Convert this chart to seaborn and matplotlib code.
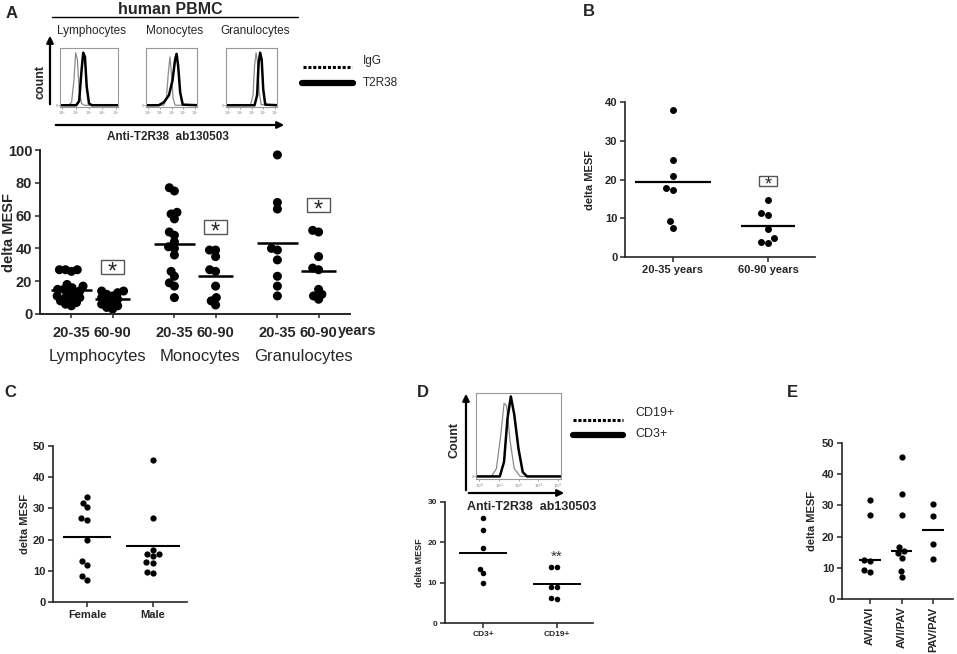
import numpy as np
import pandas as pd
import matplotlib
matplotlib.use('Agg')
import matplotlib.pyplot as plt
import seaborn as sns
from matplotlib.collections import PathCollection

# ---- data ----
# A: delta MESF per cell type and age group
cell_types = ["Lymphocytes", "Monocytes", "Granulocytes"]
age_groups = ["20-35", "60-90"]
lym_young = [27, 27, 27, 26, 18, 17, 16, 15, 15, 14, 13, 12, 11, 10, 10, 9, 8, 7, 6, 5]
lym_old = [14, 14, 13, 12, 11, 10, 9, 8, 7, 6, 5, 4, 3]
mono_young = [77, 75, 62, 61, 58, 50, 48, 44, 41, 40, 36, 26, 23, 19, 17, 10]
mono_old = [39, 39, 35, 27, 26, 17, 10, 8, 5.5]
gran_young = [97, 68, 64, 40, 39, 33, 23, 17, 11]
gran_old = [51, 50, 35, 28, 27, 15, 12, 11, 9]
a_star_y = [28.7, 53, 66.5]

# A histograms (x as fraction of the log axis, y as fraction of box height)
lym_igg_x = [0, 0.15, 0.20, 0.24, 0.27, 0.30, 0.33, 0.37, 0.42, 1]
lym_igg_y = [0.03, 0.03, 0.08, 0.45, 0.92, 0.8, 0.3, 0.06, 0.03, 0.03]
lym_t2r_x = [0, 0.28, 0.33, 0.37, 0.40, 0.43, 0.46, 0.50, 0.55, 1]
lym_t2r_y = [0.03, 0.03, 0.1, 0.6, 0.92, 0.85, 0.35, 0.06, 0.03, 0.03]
mono_igg_x = [0, 0.35, 0.40, 0.44, 0.47, 0.50, 0.53, 0.57, 1]
mono_igg_y = [0.03, 0.03, 0.15, 0.6, 0.85, 0.55, 0.15, 0.03, 0.03]
mono_t2r_x = [0, 0.25, 0.35, 0.45, 0.52, 0.57, 0.60, 0.63, 0.67, 0.72, 1]
mono_t2r_y = [0.03, 0.03, 0.08, 0.2, 0.45, 0.8, 0.9, 0.7, 0.25, 0.04, 0.03]
gran_igg_x = [0, 0.48, 0.53, 0.56, 0.59, 0.62, 0.65, 0.69, 1]
gran_igg_y = [0.03, 0.03, 0.2, 0.7, 0.92, 0.75, 0.25, 0.04, 0.03]
gran_t2r_x = [0, 0.56, 0.61, 0.64, 0.67, 0.70, 0.73, 0.77, 1]
gran_t2r_y = [0.03, 0.03, 0.2, 0.75, 0.92, 0.8, 0.3, 0.04, 0.03]
hist_ticklabels = ["$10^0$", "$10^1$", "$10^2$", "$10^3$", "$10^4$"]

# B: age groups
b_groups = ["20-35 years", "60-90 years"]
b_young = [38, 25, 21, 17.8, 17.4, 9.2, 7.6]
b_old = [14.8, 11.3, 10.9, 7.3, 4.8, 3.9, 3.7]
b_star_y = 19.6

# C: sex
c_groups = ["Female", "Male"]
c_female = [33.8, 31.8, 30.3, 27, 26.3, 19.8, 13.2, 12, 8.4, 7]
c_male = [45.5, 27, 16.7, 15.5, 15.5, 14.7, 12.7, 12.5, 9.5, 9.2]

# D: T vs B cells
d_groups = ["CD3+", "CD19+"]
d_cd3 = [26, 23, 18.6, 13.5, 12.4, 10]
d_cd19 = [14, 13.8, 9, 8.9, 6.2, 6]
d_star_y = 16.4
d_igg_x = [0, 0.18, 0.24, 0.29, 0.33, 0.36, 0.40, 0.45, 0.52, 1]
d_igg_y = [0.03, 0.03, 0.12, 0.5, 0.88, 0.85, 0.45, 0.12, 0.03, 0.03]
d_cd3_x = [0, 0.28, 0.33, 0.37, 0.41, 0.45, 0.50, 0.55, 0.60, 1]
d_cd3_y = [0.03, 0.03, 0.2, 0.7, 0.96, 0.75, 0.35, 0.08, 0.03, 0.03]

# E: genotypes
e_groups = ["AVI/AVI", "AVI/PAV", "PAV/PAV"]
e_avi_avi = [31.8, 27, 12.5, 12.2, 9.3, 8.5]
e_avi_pav = [45.5, 33.8, 27, 16.8, 15.5, 14.8, 13.2, 9, 7]
e_pav_pav = [30.3, 26.7, 17.5, 12.8]

sns.set_style("ticks")
plt.rcParams['font.family'] = ['Liberation Sans', 'DejaVu Sans']
plt.rcParams['axes.linewidth'] = 1.2

W, H = 957, 654
fig = plt.figure(figsize=(W / 100, H / 100), dpi=100)


def px_axes(l, t, r, b):
    return fig.add_axes([l / W, 1 - b / H, (r - l) / W, (b - t) / H])


def fx(x):
    return x / W


def fy(y):
    return 1 - y / H


def long_df(groups, values):
    rows = []
    for g, vals in zip(groups, values):
        for v in vals:
            rows.append({"group": g, "val": v})
    return pd.DataFrame(rows)


def style_dotplot(ax, fs, ylabel, ylab_fs, ylab_x):
    sns.despine(ax=ax)
    ax.set_xlabel("")
    ax.set_ylabel(ylabel, fontsize=ylab_fs, fontweight='bold')
    ax.yaxis.set_label_coords(ylab_x, 0.5)
    ax.tick_params(axis='both', labelsize=fs, length=3.5, width=1.1, pad=2)
    for lab in ax.get_xticklabels() + ax.get_yticklabels():
        lab.set_fontweight('bold')


def freeze_and_enlarge(ax, size):
    # let seaborn place the swarm with the small marker, then keep those
    # positions and draw bigger dots so they overlap like the reference
    fig.canvas.draw()
    for coll in ax.collections:
        if not isinstance(coll, PathCollection):
            continue
        if 'draw' in coll.__dict__:
            del coll.__dict__['draw']
        coll.set_sizes([size ** 2])


def mean_lines(ax, values, half, stat=np.mean, lw=1.6):
    for i, vals in enumerate(values):
        h = half[i] if isinstance(half, (list, tuple)) else half
        ax.hlines(stat(vals), i - h, i + h, color='black', lw=lw, zorder=1)


def star_in_box(ax, x, y, box_fs, star_fs, drop):
    ax.text(x, y, " " * 7, fontsize=box_fs, ha='center', va='center',
            bbox=dict(boxstyle='square,pad=0.2', facecolor='white', edgecolor='#555555', lw=1.0))
    ax.annotate("*", (x, y), xytext=(0, -drop), textcoords='offset points',
                fontsize=star_fs, ha='center', va='center')


def draw_hist(ax, curves, ticklabel_fs):
    for xs, ys, col, lw in curves:
        ax.plot(xs, ys, color=col, lw=lw)
    ax.set_xlim(0, 1)
    ax.set_ylim(0, 1)
    ax.set_xticks([0.04, 0.27, 0.5, 0.73, 0.96])
    ax.set_xticklabels(hist_ticklabels, fontsize=ticklabel_fs, color='#555555')
    ax.set_yticks([0.03])
    ax.set_yticklabels(["0"], fontsize=ticklabel_fs, color='#555555')
    ax.tick_params(length=1.2, width=0.5, pad=0.5, colors='#777777')
    for s in ax.spines.values():
        s.set_color('#999999')
        s.set_linewidth(0.8)


def arrow(x0, y0, x1, y1, lw=1.6):
    fig.add_artist(matplotlib.patches.FancyArrowPatch(
        (fx(x0), fy(y0)), (fx(x1), fy(y1)), transform=fig.transFigure,
        arrowstyle='-|>', mutation_scale=10, lw=lw, color='black'))


# ---------------- Panel A ----------------
fig.text(fx(12), fy(13), "A", fontsize=12, fontweight='bold', ha='center', va='center')
fig.text(fx(170), fy(9), "human PBMC", fontsize=11.5, fontweight='bold', ha='center', va='center')
fig.add_artist(matplotlib.lines.Line2D([fx(52), fx(298)], [fy(17), fy(17)], color='black', lw=1.0))

hist_boxes = [(60, 118), (146, 197), (226, 277)]
hist_curves = [
    [(lym_igg_x, lym_igg_y, '#8a8a8a', 0.9), (lym_t2r_x, lym_t2r_y, 'black', 1.8)],
    [(mono_igg_x, mono_igg_y, '#8a8a8a', 0.9), (mono_t2r_x, mono_t2r_y, 'black', 1.8)],
    [(gran_igg_x, gran_igg_y, '#8a8a8a', 0.9), (gran_t2r_x, gran_t2r_y, 'black', 1.8)],
]
label_centers = [91, 175, 255]
for (l, r), curves, name, cx in zip(hist_boxes, hist_curves, cell_types, label_centers):
    hax = px_axes(l, 48, r, 107)
    draw_hist(hax, curves, 2.5)
    fig.text(fx(cx), fy(31), name, fontsize=8.5, ha='center', va='center')

arrow(50, 107, 50, 33)
arrow(53, 125, 287, 125)
fig.text(fx(40), fy(82), "count", fontsize=9, fontweight='bold', rotation=90, ha='center', va='center')
fig.text(fx(168), fy(137), "Anti-T2R38  ab130503", fontsize=8.5, fontweight='bold', ha='center', va='center')

fig.add_artist(matplotlib.lines.Line2D([fx(303), fx(352)], [fy(67), fy(67)], color='black', lw=2.2, ls=(0, (1, 0.6))))
fig.add_artist(matplotlib.lines.Line2D([fx(302), fx(353)], [fy(83), fy(83)], color='black', lw=4.5))
fig.text(fx(363), fy(61), "IgG", fontsize=8.5, ha='left', va='center')
fig.text(fx(363), fy(83), "T2R38", fontsize=8.5, ha='left', va='center')

axA = px_axes(40, 150, 350, 314)
a_rows = []
for ct, young, old in zip(cell_types, [lym_young, mono_young, gran_young], [lym_old, mono_old, gran_old]):
    for v in young:
        a_rows.append({"cell": ct, "age": age_groups[0], "val": v})
    for v in old:
        a_rows.append({"cell": ct, "age": age_groups[1], "val": v})
dfA = pd.DataFrame(a_rows)
sns.swarmplot(data=dfA, x="cell", y="val", hue="age", order=cell_types, hue_order=age_groups,
              dodge=True, palette=['black', 'black'], size=4.2, legend=False, ax=axA, zorder=2)
for i, (young, old) in enumerate(zip([lym_young, mono_young, gran_young], [lym_old, mono_old, gran_old])):
    axA.hlines(np.mean(young), i - 0.2 - 0.2, i - 0.2 + 0.2, color='black', lw=1.8, zorder=1)
    axA.hlines(np.mean(old), i + 0.2 - 0.17, i + 0.2 + 0.17, color='black', lw=1.8, zorder=1)
axA.set_xlim(-0.505, 2.505)
axA.set_ylim(0, 100)
axA.set_yticks([0, 20, 40, 60, 80, 100])
axA.set_xticks([-0.2, 0.2, 0.8, 1.2, 1.8, 2.2])
axA.set_xticklabels(age_groups * 3)
style_dotplot(axA, 10.5, "delta MESF", 10.5, -0.077)
axA.spines['left'].set_linewidth(1.4)
axA.spines['bottom'].set_linewidth(1.4)
axA.tick_params(axis='x', length=3, pad=6)
axA.text(2.57, -0.103, "years", transform=axA.get_xaxis_transform(), fontsize=10.5,
         fontweight='bold', ha='center', va='center')
for i, name in enumerate(cell_types):
    axA.text(i + 0.05, -0.262, name, transform=axA.get_xaxis_transform(), fontsize=12,
             ha='center', va='center')
for i, yv in enumerate(a_star_y):
    star_in_box(axA, i + 0.2, yv, 7, 17, 4)

# ---------------- Panel B ----------------
fig.text(fx(589), fy(11), "B", fontsize=12, fontweight='bold', ha='center', va='center')
axB = px_axes(625, 102, 815, 257)
dfB = long_df(b_groups, [b_young, b_old])
sns.swarmplot(data=dfB, x="group", y="val", order=b_groups, color='black', size=5, ax=axB, zorder=2)
mean_lines(axB, [b_young, b_old], [0.4, 0.28], lw=1.6)
axB.set_xlim(-0.505, 1.495)
axB.set_ylim(0, 40)
axB.set_yticks([0, 10, 20, 30, 40])
style_dotplot(axB, 8, "delta MESF", 8, -0.16)
star_in_box(axB, 1, b_star_y, 5.5, 13, 3)

# ---------------- Panel C ----------------
fig.text(fx(10), fy(393), "C", fontsize=12, fontweight='bold', ha='center', va='center')
axC = px_axes(53, 446, 187, 602)
dfC = long_df(c_groups, [c_female, c_male])
sns.swarmplot(data=dfC, x="group", y="val", order=c_groups, color='black', size=4.5, ax=axC, zorder=2)
mean_lines(axC, [c_female, c_male], [0.37, 0.41], lw=1.5)
axC.set_xlim(-0.515, 1.515)
axC.set_ylim(0, 50)
axC.set_yticks([0, 10, 20, 30, 40, 50])
style_dotplot(axC, 8, "delta MESF", 8, -0.17)

# ---------------- Panel D ----------------
fig.text(fx(423), fy(393), "D", fontsize=12, fontweight='bold', ha='center', va='center')
hD = px_axes(476, 393, 561, 479)
draw_hist(hD, [(d_igg_x, d_igg_y, '#8a8a8a', 0.9), (d_cd3_x, d_cd3_y, 'black', 1.8)], 3)
arrow(466, 493, 466, 391)
arrow(466, 493, 567, 493)
fig.text(fx(454), fy(440), "Count", fontsize=9, fontweight='bold', rotation=90, ha='center', va='center')
fig.add_artist(matplotlib.lines.Line2D([fx(573), fx(623)], [fy(420), fy(420)], color='black', lw=2.2, ls=(0, (1, 0.6))))
fig.add_artist(matplotlib.lines.Line2D([fx(573), fx(623)], [fy(435), fy(435)], color='black', lw=4.5))
fig.text(fx(635), fy(413), "CD19+", fontsize=9, ha='left', va='center')
fig.text(fx(635), fy(434), "CD3+", fontsize=9, ha='left', va='center')

axD = px_axes(445, 502, 593, 623)
dfD = long_df(d_groups, [d_cd3, d_cd19])
sns.swarmplot(data=dfD, x="group", y="val", order=d_groups, color='black', size=4, ax=axD, zorder=2)
mean_lines(axD, [d_cd3, d_cd19], 0.33, lw=1.4)
axD.set_xlim(-0.514, 1.486)
axD.set_ylim(0, 30)
axD.set_yticks([0, 10, 20, 30])
style_dotplot(axD, 6, "delta MESF", 6.5, -0.14)
axD.text(1, d_star_y, "**", fontsize=11, ha='center', va='center', color='#333333')
fig.text(fx(532), fy(507), "Anti-T2R38  ab130503", fontsize=9, fontweight='bold', ha='center', va='center')

# ---------------- Panel E ----------------
fig.text(fx(792), fy(393), "E", fontsize=12, fontweight='bold', ha='center', va='center')
axE = px_axes(842, 443, 953, 599)
dfE = long_df(e_groups, [e_avi_avi, e_avi_pav, e_pav_pav])
sns.swarmplot(data=dfE, x="group", y="val", order=e_groups, color='black', size=4.5, ax=axE, zorder=2)
mean_lines(axE, [e_avi_avi, e_avi_pav, e_pav_pav], 0.34, stat=np.median, lw=1.5)
axE.set_xlim(-0.89, 2.63)
axE.set_ylim(0, 50)
axE.set_yticks([0, 10, 20, 30, 40, 50])
style_dotplot(axE, 8, "delta MESF", 8, -0.225)
axE.tick_params(axis='x', labelrotation=90)

# positions of panel A swarm are fixed after the layout is final
freeze_and_enlarge(axA, 6.5)

fig.savefig("out.png", dpi=100, facecolor='white')
